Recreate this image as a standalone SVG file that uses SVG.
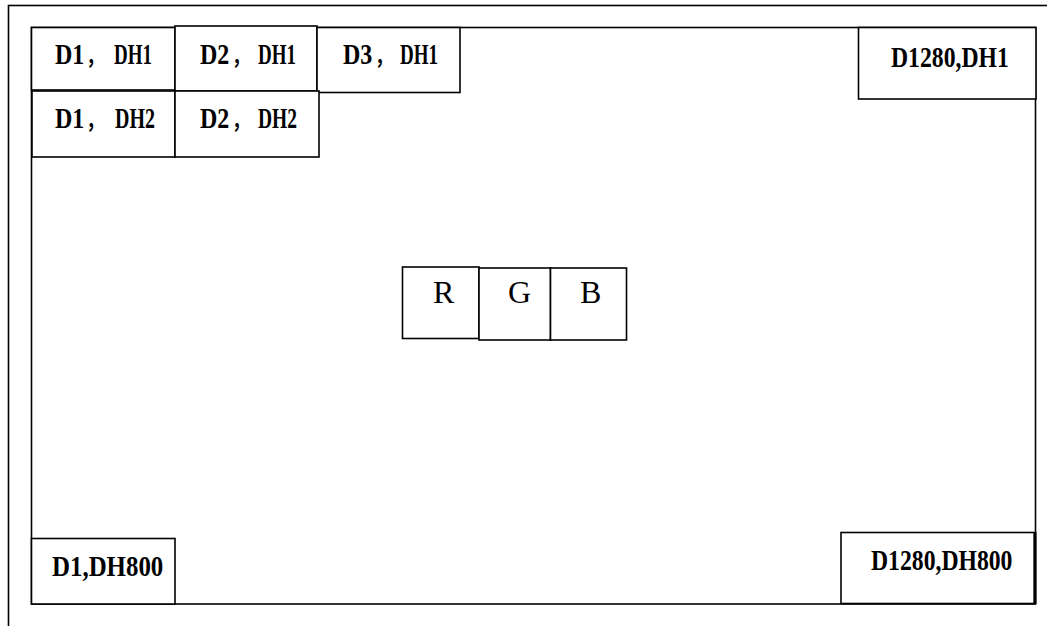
<svg xmlns="http://www.w3.org/2000/svg" width="1047" height="626" viewBox="0 0 1047 626">
<style>
.box{fill:#fff;stroke:#000;stroke-width:1.6}
.frame{fill:none;stroke:#000;stroke-width:1.6}
.lbl{font-family:"Liberation Serif","Noto Sans CJK SC",serif;font-weight:bold;font-size:30px;fill:#000}
.cm{font-family:"Noto Sans CJK SC",sans-serif;font-weight:bold;font-size:22px}
.rgb{font-family:"Liberation Serif",serif;font-size:32px;fill:#000}
</style>
<rect width="1047" height="626" fill="#fff"/>
<g id="outer-frame">
<rect class="frame" x="8.5" y="5.5" width="1100" height="700"/>
</g>
<g id="screen">
<rect class="frame" x="31.5" y="27.5" width="1004" height="576.5"/>
</g>
<g id="d1-dh1">
<rect class="box" x="31.5" y="27.5" width="143.5" height="62.5"/>
<text class="lbl" transform="translate(55,64) scale(0.8,1)"><tspan x="0" y="0">D1</tspan><tspan class="cm" x="39" y="0">，</tspan><tspan x="73.75" y="0" textLength="47.5" lengthAdjust="spacingAndGlyphs">DH1</tspan></text>
</g>
<g id="d2-dh1">
<rect class="box" x="175" y="26" width="142" height="65"/>
<text class="lbl" transform="translate(200,64) scale(0.8,1)"><tspan x="0" y="0">D2</tspan><tspan class="cm" x="40" y="0">，</tspan><tspan x="72.5" y="0" textLength="47.5" lengthAdjust="spacingAndGlyphs">DH1</tspan></text>
</g>
<g id="d3-dh1">
<rect class="box" x="317" y="27.5" width="143" height="65"/>
<text class="lbl" transform="translate(343,64) scale(0.8,1)"><tspan x="0" y="0">D3</tspan><tspan class="cm" x="40" y="0">，</tspan><tspan x="71.25" y="0" textLength="47.5" lengthAdjust="spacingAndGlyphs">DH1</tspan></text>
</g>
<g id="d1-dh2">
<rect class="box" x="32" y="91" width="143" height="66"/>
<text class="lbl" transform="translate(55,128) scale(0.8,1)"><tspan x="0" y="0">D1</tspan><tspan class="cm" x="39" y="0">，</tspan><tspan x="75" y="0" textLength="50" lengthAdjust="spacingAndGlyphs">DH2</tspan></text>
</g>
<g id="d2-dh2">
<rect class="box" x="175" y="91" width="144" height="66"/>
<text class="lbl" transform="translate(200,128) scale(0.8,1)"><tspan x="0" y="0">D2</tspan><tspan class="cm" x="40" y="0">，</tspan><tspan x="72.5" y="0" textLength="48.75" lengthAdjust="spacingAndGlyphs">DH2</tspan></text>
</g>
<g id="d1280-dh1">
<rect class="box" x="858.5" y="27.5" width="177.5" height="71.5"/>
<text class="lbl" transform="translate(891,66.5) scale(0.79,1)" x="0" y="0">D1280,DH1</text>
</g>
<g id="d1-dh800">
<rect class="box" x="31.5" y="538.5" width="143.5" height="65.5"/>
<text class="lbl" transform="translate(52,575.5) scale(0.83,1)" x="0" y="0">D1,DH800</text>
</g>
<g id="d1280-dh800">
<rect class="box" x="841" y="532.5" width="193.5" height="71"/>
<line x1="1035" y1="532" x2="1035" y2="604" stroke="#000" stroke-width="3"/>
<text class="lbl" transform="translate(871,570) scale(0.79,1)" x="0" y="0">D1280,DH800</text>
</g>
<g id="r">
<rect class="box" x="402.5" y="267" width="76.5" height="71.5"/>
<text class="rgb" x="433" y="303">R</text>
</g>
<g id="g">
<rect class="box" x="479" y="268" width="71.5" height="72"/>
<text class="rgb" x="508" y="303">G</text>
</g>
<g id="b">
<rect class="box" x="550.5" y="268" width="76" height="72"/>
<text class="rgb" x="580" y="303">B</text>
</g>
<g id="connectors"/>
</svg>
